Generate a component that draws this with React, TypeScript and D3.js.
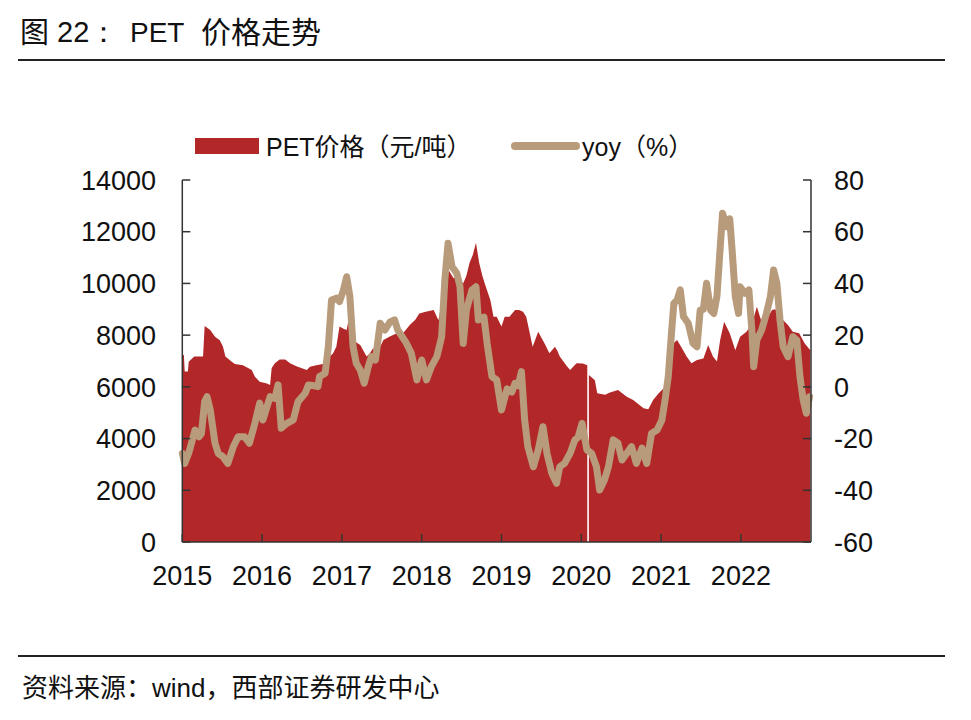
import React from "react";
import * as d3 from "d3";

// ---- data (decimal year, value) ----
const priceDates: number[] = [
  2015.0, 2015.02, 2015.03, 2015.07, 2015.08, 2015.15, 2015.26, 2015.28, 2015.35, 2015.41,
  2015.47, 2015.51, 2015.54, 2015.62, 2015.66, 2015.76, 2015.87, 2015.91, 2015.97, 2016.06,
  2016.1, 2016.12, 2016.16, 2016.22, 2016.29, 2016.35, 2016.43, 2016.56, 2016.6, 2016.68,
  2016.81, 2016.85, 2016.89, 2016.93, 2016.97, 2017.02, 2017.06, 2017.09, 2017.12, 2017.14,
  2017.23, 2017.27, 2017.31, 2017.35, 2017.39, 2017.46, 2017.52, 2017.6, 2017.69, 2017.73,
  2017.8, 2017.85, 2017.92, 2017.97, 2018.05, 2018.15, 2018.21, 2018.25, 2018.29, 2018.34,
  2018.4, 2018.46, 2018.52, 2018.56, 2018.6, 2018.64, 2018.68, 2018.72, 2018.76, 2018.79,
  2018.86, 2018.9, 2018.94, 2019.0, 2019.04, 2019.1, 2019.17, 2019.22, 2019.27, 2019.31,
  2019.36, 2019.39, 2019.46, 2019.5, 2019.54, 2019.6, 2019.67, 2019.7, 2019.73, 2019.82,
  2019.86, 2019.94, 2020.02, 2020.075, 2020.085, 2020.095, 2020.17, 2020.2, 2020.3, 2020.35,
  2020.46, 2020.57, 2020.65, 2020.78, 2020.84, 2020.9, 2020.97, 2021.03, 2021.08, 2021.12,
  2021.16, 2021.2, 2021.26, 2021.32, 2021.38, 2021.45, 2021.53, 2021.59, 2021.65, 2021.7,
  2021.74, 2021.79, 2021.86, 2021.93, 2021.99, 2022.07, 2022.14, 2022.2, 2022.24, 2022.28,
  2022.34, 2022.39, 2022.43, 2022.48, 2022.53, 2022.59, 2022.65, 2022.73, 2022.8, 2022.87,
];
const priceValues: (number | null)[] = [
  7230, 7230, 6590, 6590, 6970, 7170, 7170, 8350, 8200, 7940,
  7800, 7550, 7170, 6970, 6880, 6840, 6650, 6390, 6200, 6130,
  6070, 6730, 6910, 7060, 7060, 6910, 6800, 6650, 6780, 6840,
  6910, 7170, 7300, 7550, 8330, 8250, 8200, 8710, 8600, 7800,
  7620, 7400, 7170, 7300, 7480, 7420, 7810, 7950, 8070, 7950,
  8200, 8390, 8600, 8840, 8900, 8970, 8580, 9200, 10400, 10500,
  10200, 10300, 10000, 10300, 10800, 11100, 11570, 10800, 10300, 10000,
  9360, 8710, 8710, 8330, 8710, 8710, 8970, 8970, 8900, 8710,
  8000, 7550, 8130, 7900, 7680, 7300, 7550, 7400, 7170, 6800,
  6650, 6910, 6900, 6840, null, 6460, 6260, 5750, 5690, 5770,
  5880, 5620, 5490, 5170, 5130, 5490, 5750, 5940, 6300, 7000,
  7700, 7810, 7500, 7170, 6910, 7040, 7100, 7620, 7170, 6980,
  7810, 8520, 8070, 7420, 7940, 8130, 8450, 9100, 8700, 8300,
  8700, 8970, 9000, 8800, 8580, 8390, 8130, 8070, 7680, 7420,
];

const yoyDates: number[] = [
  2015.0, 2015.03, 2015.08, 2015.16, 2015.21, 2015.24, 2015.28, 2015.31, 2015.35, 2015.41,
  2015.45, 2015.51, 2015.57, 2015.64, 2015.7, 2015.78, 2015.84, 2015.91, 2015.97, 2016.01,
  2016.1, 2016.16, 2016.2, 2016.24, 2016.31, 2016.39, 2016.45, 2016.54, 2016.58, 2016.64,
  2016.7, 2016.72, 2016.79, 2016.83, 2016.87, 2016.93, 2016.97, 2017.02, 2017.06, 2017.1,
  2017.14, 2017.18, 2017.23, 2017.28, 2017.33, 2017.37, 2017.42, 2017.48, 2017.54, 2017.6,
  2017.66, 2017.7, 2017.81, 2017.87, 2017.94, 2018.0, 2018.06, 2018.12, 2018.19, 2018.25,
  2018.29, 2018.33, 2018.38, 2018.44, 2018.48, 2018.52, 2018.56, 2018.63, 2018.68, 2018.71,
  2018.78, 2018.82, 2018.88, 2018.94, 2019.0, 2019.07, 2019.13, 2019.17, 2019.21, 2019.25,
  2019.29, 2019.33, 2019.4, 2019.46, 2019.52, 2019.57, 2019.63, 2019.69, 2019.73, 2019.79,
  2019.86, 2019.92, 2019.96, 2020.01, 2020.07, 2020.13, 2020.19, 2020.23, 2020.29, 2020.34,
  2020.4, 2020.46, 2020.51, 2020.57, 2020.63, 2020.69, 2020.76, 2020.82, 2020.88, 2020.95,
  2021.01, 2021.05, 2021.09, 2021.13, 2021.16, 2021.2, 2021.24, 2021.28, 2021.34, 2021.4,
  2021.45, 2021.49, 2021.53, 2021.57, 2021.62, 2021.66, 2021.7, 2021.73, 2021.77, 2021.82,
  2021.86, 2021.89, 2021.93, 2021.97, 2021.99, 2022.05, 2022.1, 2022.14, 2022.16, 2022.2,
  2022.26, 2022.32, 2022.37, 2022.41, 2022.45, 2022.49, 2022.53, 2022.59, 2022.65, 2022.7,
  2022.74, 2022.78, 2022.82, 2022.86,
];
const yoyValues: number[] = [
  -25.7, -29.6, -25.7, -16.7, -19.3, -18, -5.7, -3.8, -8.9, -21.8,
  -25.7, -27, -29.6, -23.1, -19.3, -19.3, -21.8, -14.1, -6.3, -12.8,
  -3.8, -4.5, 0.8, -16, -14.1, -12.8, -5.7, -2.5, 0.7, 0.5,
  0.1, 4, 5.3, 15.5, 33.6, 34.3, 33, 37.5, 42.6, 34.9,
  15.5, 9.1, 6.5, 1.4, 7.8, 11.7, 10.4, 24.6, 22, 25,
  25.9, 22, 16.8, 13, 2.7, 10.4, 2.7, 7.8, 11.7, 19.4,
  41.3, 55.5, 46.5, 43.9, 38.7, 16.8, 29.7, 37.5, 38.7, 25.9,
  27, 16.8, 4, 2.7, -8.9, -0.8, -2, 1.4, 0.5, 5.9,
  -12.8, -23.1, -30.9, -24.4, -15.4, -25.7, -33.4, -37.3, -30.9, -29.6,
  -25.7, -20.5, -19.5, -14.1, -24.4, -25.7, -30.9, -39.9, -36, -30.9,
  -20.5, -21.8, -28.3, -25.7, -23.1, -29.6, -23.7, -29.6, -18, -16.7,
  -12.8, -5, 4, 20.7, 32.3, 33.6, 37.5, 27.2, 24.6, 16.8,
  15.5, 29.7, 30, 40.1, 29.7, 28.4, 35, 49.1, 67.1, 62,
  65, 52.9, 34.9, 28.4, 38.7, 36.2, 37.5, 20.7, 7.8, 18.1,
  22, 28.4, 34.9, 45.2, 40.1, 25.9, 15.5, 11.7, 19.4, 18.1,
  4, -5, -10.2, -3.8,
];

const yearTicks: number[] = [2015, 2016, 2017, 2018, 2019, 2020, 2021, 2022];
const leftTicks: number[] = [0, 2000, 4000, 6000, 8000, 10000, 12000, 14000];
const rightTicks: number[] = [-60, -40, -20, 0, 20, 40, 60, 80];

const titleParts = ["图", "22：", "PET", "价格走势"];
const legendPrice = "PET价格（元/吨）";
const legendYoy = "yoy（%）";
const sourceText = "资料来源：wind，西部证券研发中心";

const RED = "#B22828";
const TAN = "#B89B7A";
const AXIS = "#333";
const LATIN = "'Liberation Sans', Arial, sans-serif";
const CJK = "'Liberation Sans', 'Noto Sans CJK SC', sans-serif";

export default function App() {
  const left = 182.3;
  const right = 811;
  const top = 180;
  const bottom = 542;

  const x = d3.scaleLinear().domain([2015, 2015 + (right - left) / 79.8]).range([left, right]);
  const yL = d3.scaleLinear().domain([0, 14000]).range([bottom, top]);
  const yR = d3.scaleLinear().domain([-60, 80]).range([bottom, top]);

  const priceData = priceDates.map((d, i) => ({ t: d, v: priceValues[i] }));
  const yoyData = yoyDates.map((d, i) => ({ t: d, v: yoyValues[i] }));

  const area = d3
    .area<{ t: number; v: number | null }>()
    .defined((d) => d.v !== null)
    .x((d) => x(d.t))
    .y0(bottom)
    .y1((d) => yL(d.v as number));

  const line = d3
    .line<{ t: number; v: number }>()
    .x((d) => x(d.t))
    .y((d) => yR(d.v))
    .curve(d3.curveLinear);

  const tickLen = 8;

  return (
    <svg
      width={971}
      height={720}
      style={{ position: "absolute", left: 0, top: 0, background: "#fff" }}
    >
      {/* title */}
      <g fontFamily={CJK} fill="#111">
        <text x={20} y={43} fontSize={29}>{titleParts[0]}</text>
        <text x={57} y={42} fontSize={29} fontFamily={LATIN}>{titleParts[1]}</text>
        <text x={130} y={42} fontSize={28} fontFamily={LATIN}>{titleParts[2]}</text>
        <text x={201} y={43} fontSize={30}>{titleParts[3]}</text>
      </g>
      <line x1={18} x2={945} y1={60} y2={60} stroke="#222" strokeWidth={2} />

      {/* legend */}
      <rect x={195} y={138} width={64} height={16} fill={RED} />
      <text x={266} y={156} fontFamily={CJK} fontSize={25} fill="#111">{legendPrice}</text>
      <line x1={515} x2={576} y1={146} y2={146} stroke={TAN} strokeWidth={8} strokeLinecap="round" />
      <text x={582} y={156} fontFamily={CJK} fontSize={25} fill="#111">{legendYoy}</text>

      {/* area */}
      <path d={area(priceData) || ""} fill={RED} />
      {/* line */}
      <path
        d={line(yoyData) || ""}
        fill="none"
        stroke={TAN}
        strokeWidth={7}
        strokeLinejoin="round"
        strokeLinecap="round"
      />

      {/* axes */}
      <line x1={left} x2={left} y1={top} y2={bottom} stroke={AXIS} strokeWidth={1.5} />
      <line x1={right} x2={right} y1={top} y2={bottom} stroke={AXIS} strokeWidth={1.5} />
      <line x1={left} x2={right} y1={bottom} y2={bottom} stroke={AXIS} strokeWidth={1.5} />

      {leftTicks.map((t) => (
        <g key={"l" + t}>
          <line x1={left} x2={left + tickLen} y1={yL(t)} y2={yL(t)} stroke={AXIS} strokeWidth={1.5} />
          <text
            x={156}
            y={yL(t)}
            dy="0.36em"
            textAnchor="end"
            fontFamily={LATIN}
            fontSize={27}
            fill="#111"
          >
            {t}
          </text>
        </g>
      ))}
      {rightTicks.map((t) => (
        <g key={"r" + t}>
          <line x1={right - tickLen} x2={right} y1={yR(t)} y2={yR(t)} stroke={AXIS} strokeWidth={1.5} />
          <text
            x={834}
            y={yR(t)}
            dy="0.36em"
            textAnchor="start"
            fontFamily={LATIN}
            fontSize={27}
            fill="#111"
          >
            {t}
          </text>
        </g>
      ))}
      {yearTicks.map((t) => (
        <g key={"x" + t}>
          <line x1={x(t)} x2={x(t)} y1={bottom} y2={bottom - tickLen} stroke={AXIS} strokeWidth={1.5} />
          <text x={x(t)} y={585} textAnchor="middle" fontFamily={LATIN} fontSize={27} fill="#111">
            {t}
          </text>
        </g>
      ))}

      {/* footer */}
      <line x1={18} x2={945} y1={656} y2={656} stroke="#222" strokeWidth={2} />
      <text x={22} y={697} fontFamily={CJK} fontSize={26} fill="#111">{sourceText}</text>
    </svg>
  );
}
